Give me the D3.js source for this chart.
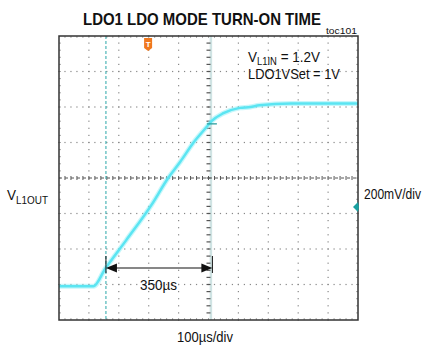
<!DOCTYPE html>
<html><head><meta charset="utf-8">
<script src="https://cdn.jsdelivr.net/npm/d3@7"></script>
<style>
html,body{margin:0;padding:0;background:#fff;}
svg{display:block;}
text{font-family:"Liberation Sans",Arial,sans-serif;fill:#111;}
</style></head>
<body>
<script>
// ---- data (time in µs, voltage in V) ----
const timeUs = [0, 115, 155, 225, 310, 365, 405, 450, 495, 510, 550, 605, 640, 670, 775, 1000];
const voltsV = [-0.01, -0.01, 0.09, 0.25, 0.45, 0.6, 0.69, 0.8, 0.89, 0.92, 0.965, 0.995, 1.0, 1.01, 1.02, 1.02];
const timeDomain = [0, 1000];      // 10 div x 100µs
const voltDomain = [-0.2, 1.4];    // 8 div x 200mV
const xMajorStep = 100, yMajorStep = 0.2;
const cursorTimes = [157, 508];
const triggerTime = 298;
const refMarkerVolt = 0.437;
const crossMarkerVolt = 0.905;
const labels = {
  title: "LDO1 LDO MODE TURN-ON TIME",
  toc: "toc101",
  yLabel: ["V", "L1OUT"],
  yScale: "200mV/div",
  xScale: "100µs/div",
  delta: "350µs",
  note1: ["V", "L1IN", " = 1.2V"],
  note2: "LDO1VSet = 1V"
};

const W = 426, H = 348;
const svg = d3.select("body").append("svg").attr("width", W).attr("height", H);
const x = d3.scaleLinear().domain(timeDomain).range([59, 358]);
const y = d3.scaleLinear().domain(voltDomain).range([320, 36]);

const eps = 1e-9;
const xMajors = d3.range(timeDomain[0], timeDomain[1] + eps, xMajorStep);
const yMajors = d3.range(voltDomain[0], voltDomain[1] + eps, yMajorStep);
const xMinors = d3.range(timeDomain[0], timeDomain[1] + eps, xMajorStep / 5);
const yMinors = d3.range(voltDomain[0], voltDomain[1] + eps, yMajorStep / 5);
const xCenter = (timeDomain[0] + timeDomain[1]) / 2;
const yCenter = (voltDomain[0] + voltDomain[1]) / 2;

const g = svg.append("g");

// grid dots
const dots = [];
xMajors.slice(1, -1).forEach(t => {
  if (Math.abs(t - xCenter) < eps) return;
  yMinors.forEach(v => dots.push([x(t), y(v)]));
});
yMajors.slice(1, -1).forEach(v => {
  if (Math.abs(v - yCenter) < eps) return;
  xMinors.forEach(t => dots.push([x(t), y(v)]));
});
g.selectAll("rect.dot").data(dots).join("rect").attr("class", "dot")
  .attr("x", d => d[0] - 0.6).attr("y", d => d[1] - 0.6)
  .attr("width", 1.2).attr("height", 1.2).attr("fill", "#888");

// frame edge minor ticks
const edgeTicks = g.append("g").attr("stroke", "#aaa").attr("stroke-width", 1);
xMinors.slice(1, -1).forEach(t => {
  edgeTicks.append("line").attr("x1", x(t)).attr("x2", x(t)).attr("y1", y(voltDomain[1])).attr("y2", y(voltDomain[1]) + 2);
  edgeTicks.append("line").attr("x1", x(t)).attr("x2", x(t)).attr("y1", y(voltDomain[0])).attr("y2", y(voltDomain[0]) - 2);
});
yMinors.slice(1, -1).forEach(v => {
  edgeTicks.append("line").attr("x1", x(timeDomain[0])).attr("x2", x(timeDomain[0]) + 2).attr("y1", y(v)).attr("y2", y(v));
  edgeTicks.append("line").attr("x1", x(timeDomain[1])).attr("x2", x(timeDomain[1]) - 2).attr("y1", y(v)).attr("y2", y(v));
});

// cursor 2 (solid pale)
g.append("line").attr("x1", x(cursorTimes[1])).attr("x2", x(cursorTimes[1]))
  .attr("y1", y(voltDomain[1])).attr("y2", y(voltDomain[0]))
  .attr("stroke", "#cfe3e3").attr("stroke-width", 2.5);

// center axes
const ca = g.append("g").attr("stroke", "#555");
ca.append("line").attr("x1", x(timeDomain[0])).attr("x2", x(timeDomain[1]))
  .attr("y1", y(yCenter)).attr("y2", y(yCenter))
  .attr("stroke-dasharray", "3,3").attr("stroke-width", 1);
xMinors.slice(1, -1).forEach(t => {
  ca.append("line").attr("x1", x(t)).attr("x2", x(t)).attr("y1", y(yCenter) - 2).attr("y2", y(yCenter) + 2).attr("stroke-width", 1);
});
yMinors.slice(1, -1).forEach(v => {
  ca.append("line").attr("x1", x(xCenter) - 2).attr("x2", x(xCenter) + 2).attr("y1", y(v)).attr("y2", y(v)).attr("stroke-width", 1.2);
});

// cursor 1 (dashed teal)
g.append("line").attr("x1", x(cursorTimes[0])).attr("x2", x(cursorTimes[0]))
  .attr("y1", y(voltDomain[1])).attr("y2", y(voltDomain[0]))
  .attr("stroke", "#2aa6a8").attr("stroke-width", 1).attr("stroke-dasharray", "3,2");

// waveform
const line = d3.line().x((d, i) => x(timeUs[i])).y((d, i) => y(voltsV[i])).curve(d3.curveMonotoneX);
g.append("path").datum(voltsV).attr("d", line).attr("fill", "none")
  .attr("stroke", "#8ef0f7").attr("stroke-width", 5).attr("stroke-opacity", 0.5);
g.append("path").datum(voltsV).attr("d", line).attr("fill", "none")
  .attr("stroke", "#5be5f2").attr("stroke-width", 2.5);

// cross marker
g.append("line").attr("x1", x(cursorTimes[1]) - 4).attr("x2", x(cursorTimes[1]) + 6)
  .attr("y1", y(crossMarkerVolt)).attr("y2", y(crossMarkerVolt))
  .attr("stroke", "#2a9fa0").attr("stroke-width", 1.3);

// frame
g.append("rect").attr("x", x(timeDomain[0])).attr("y", y(voltDomain[1]))
  .attr("width", x(timeDomain[1]) - x(timeDomain[0])).attr("height", y(voltDomain[0]) - y(voltDomain[1]))
  .attr("fill", "none").attr("stroke", "#333").attr("stroke-width", 1.5);

// ref marker on right edge
const rx = x(timeDomain[1]), ry = y(refMarkerVolt);
g.append("path").attr("d", `M${rx - 5},${ry} L${rx},${ry - 5} L${rx + 1},${ry} L${rx},${ry + 5} Z`).attr("fill", "#19a0a0");

// trigger marker
const tx = x(triggerTime), ty = y(voltDomain[1]);
g.append("path").attr("d", `M${tx - 4},${ty + 2} h8 v10 l-4,3 l-4,-3 Z`).attr("fill", "#f0781e");
g.append("text").attr("x", tx).attr("y", ty + 10.5).attr("text-anchor", "middle")
  .attr("font-size", 8).attr("font-weight", "bold").style("fill", "#fff").text("T");

// delta arrow
const ay = 268, ax1 = x(cursorTimes[0]), ax2 = x(cursorTimes[1]) + 1.5;
const ag = g.append("g");
ag.append("line").attr("x1", ax1 + 8).attr("x2", ax2 - 8).attr("y1", ay).attr("y2", ay).attr("stroke", "#111").attr("stroke-width", 1.2);
ag.append("path").attr("d", `M${ax1},${ay} l11,-4.5 v9 Z`).attr("fill", "#111");
ag.append("path").attr("d", `M${ax2},${ay} l-11,-4.5 v9 Z`).attr("fill", "#111");
ag.append("line").attr("x1", ax1).attr("x2", ax1).attr("y1", 256).attr("y2", 273).attr("stroke", "#111").attr("stroke-width", 1);
ag.append("line").attr("x1", ax2).attr("x2", ax2).attr("y1", 256).attr("y2", 273).attr("stroke", "#111").attr("stroke-width", 1);

// texts: drawn at origin then condensed horizontally to the narrow width of the reference
function label(px, py, size, len, weight) {
  const t = svg.append("text").attr("x", 0).attr("y", 0).attr("font-size", size);
  if (weight) t.attr("font-weight", weight);
  t.attr("data-len", len).attr("data-x", px).attr("data-y", py);
  return t;
}
const texts = [];
const tTitle = label(83, 25, 16.5, 238, "bold"); tTitle.text(labels.title); texts.push(tTitle);
const tToc = label(326, 34, 9.5, 31); tToc.text(labels.toc); texts.push(tToc);
const n1 = label(248, 62, 15, 72);
n1.append("tspan").text(labels.note1[0]);
n1.append("tspan").attr("font-size", 10.5).attr("dy", 3).text(labels.note1[1]);
n1.append("tspan").attr("dy", -3).text(labels.note1[2]);
texts.push(n1);
const n2 = label(248, 79, 14.5, 92); n2.text(labels.note2); texts.push(n2);
const yl = label(7, 200, 15, 41);
yl.append("tspan").text(labels.yLabel[0]);
yl.append("tspan").attr("font-size", 11).attr("dy", 3.5).text(labels.yLabel[1]);
texts.push(yl);
const ys = label(364, 199, 14.5, 57); ys.text(labels.yScale); texts.push(ys);
const xs = label(177, 342, 15, 56); xs.text(labels.xScale); texts.push(xs);
const dl = label(140, 290, 15, 37); dl.text(labels.delta); texts.push(dl);

texts.forEach(t => {
  const node = t.node();
  const natural = node.getComputedTextLength();
  const sx = (+t.attr("data-len")) / natural;
  t.attr("transform", `translate(${t.attr("data-x")},${t.attr("data-y")}) scale(${sx},1)`);
});
</script>
</body></html>
